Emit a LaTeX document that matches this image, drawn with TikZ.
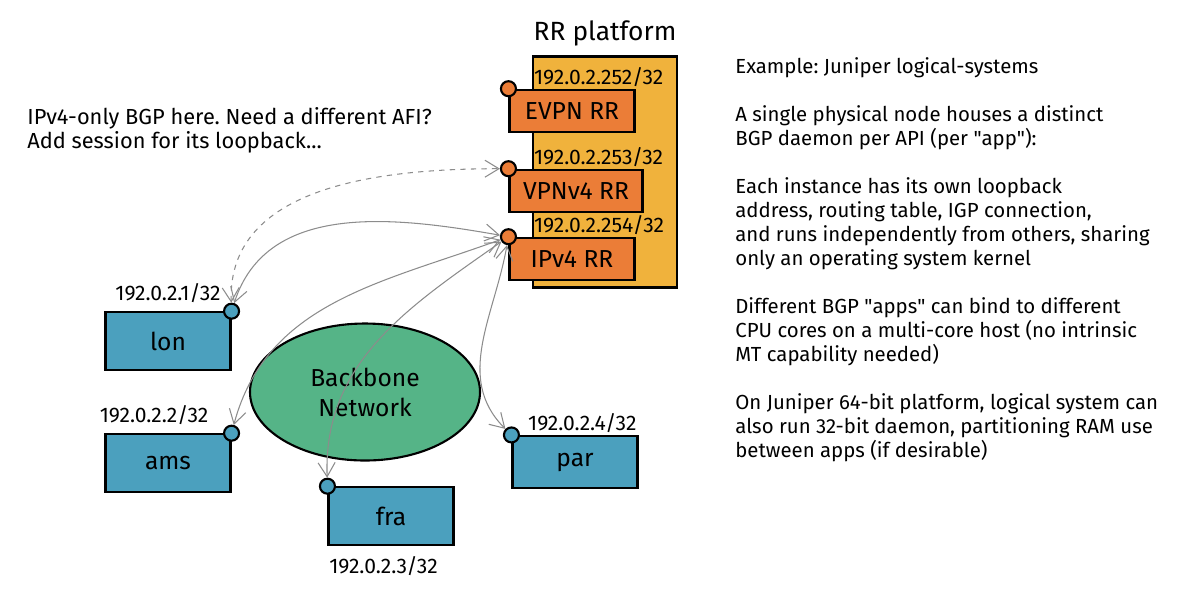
\documentclass[tikz,border=0pt]{standalone}
\usepackage{fontspec}
\setmainfont{Fira Sans}
\usepackage{tikz}
\usetikzlibrary{arrows.meta,positioning,shapes.geometric}
\definecolor{rrorange}{HTML}{EB7D37}
\definecolor{platyellow}{HTML}{F0B23C}
\definecolor{popblue}{HTML}{4BA0BE}
\definecolor{coregreen}{HTML}{55B487}
\frenchspacing

\begin{document}
\begin{tikzpicture}[x=0.2mm, y=-0.2mm,
  box/.style={draw=black, line width=1.2pt, minimum width=25mm, minimum height=11.5mm, inner sep=0pt, font=\fontsize{14}{16}\selectfont},
  rrbox/.style={box, fill=rrorange, minimum height=8.5mm},
  popbox/.style={box, fill=popblue},
  lo/.style={circle, draw=black, line width=1.2pt, minimum size=3mm, inner sep=0pt},
  addr/.style={font=\fontsize{12}{14}\selectfont, inner sep=1pt},
  note/.style={font=\fontsize{11.6}{13.66}\selectfont, align=left, inner sep=0pt},
  conn/.style={draw=gray!90, line width=0.6pt, {Straight Barb[length=2.8mm, width=3.4mm]}-{Straight Barb[length=2.8mm, width=3.4mm]}}
]
  \useasboundingbox (0,0) rectangle (1200,589);

  % RR platform with its three BGP instances
  \node[draw=black, line width=1.2pt, fill=platyellow, minimum width=28.8mm, minimum height=46.2mm] (platform) at (605,172) {};
  \node[font=\fontsize{15}{18}\selectfont, above=0.6mm of platform] (plattitle) {RR platform};

  \node[rrbox] (evpn) at (572,111) {EVPN RR};
  \node[rrbox, minimum width=26.6mm] (vpn) at (576,191) {VPNv4 RR};
  \node[rrbox] (ipv4) at (572,259) {IPv4 RR};
  \foreach \rr in {evpn,vpn,ipv4}
    \node[lo, fill=rrorange] (\rr lo) at (\rr.north west) {};

  \node[addr, anchor=south west] (evpnip) at (platform.west |- evpn.north) {192.0.2.252/32};
  \node[addr, anchor=south west] (vpnip) at (platform.west |- vpn.north) {192.0.2.253/32};
  \node[addr, anchor=south west] (ipv4ip) at (platform.west |- ipv4.north) {192.0.2.254/32};

  % backbone and PoPs
  \node[ellipse, draw=black, line width=1.2pt, fill=coregreen, minimum width=46mm, minimum height=27.4mm,
        align=center, font=\fontsize{14}{17}\selectfont] (core) at (365,392) {Backbone\\Network};

  \node[popbox] (lon) at (168,341) {lon};
  \node[popbox] (ams) at (168,463) {ams};
  \node[popbox] (fra) at (391,516) {fra};
  \node[popbox, minimum height=10.4mm] (par) at (575,462) {par};

  \node[lo, fill=popblue] (lonlo) at (lon.north east) {};
  \node[lo, fill=popblue] (amslo) at (ams.north east) {};
  \node[lo, fill=popblue] (fralo) at (fra.north west) {};
  \node[lo, fill=popblue] (parlo) at (par.north west) {};

  \node[addr, above=1.2mm of lon] (lonip) {192.0.2.1/32};
  \node[addr, above left=0mm and 3mm of amslo] (amsip) {192.0.2.2/32};
  \node[addr, below=1.8mm of fra, xshift=-1.5mm] (fraip) {192.0.2.3/32};
  \node[addr, anchor=south east] (parip) at (par.north east) {192.0.2.4/32};

  % BGP sessions
  \draw[conn, dashed] (lonlo) to[out=92, in=180] (vpnlo);
  \draw[conn] (lonlo) to[out=72, in=170] (ipv4lo);
  \draw[conn] (amslo) to[out=75, in=200] (ipv4lo);
  \draw[conn] (fralo) to[out=92, in=215] (ipv4lo);
  \draw[conn] (parlo) to[out=135, in=260] (ipv4lo);

  % notes
  \node[note, font=\fontsize{12.4}{13.66}\selectfont, anchor=north west] (afinote) at (27,107) {IPv4-only BGP here. Need a different AFI?\\Add session for its loopback...};
  \node[note, anchor=north west] (lsnote) at (735,57) {Example: Juniper logical-systems\\[13.66pt]
    A single physical node houses a distinct\\
    BGP daemon per API (per \textquotedbl app\textquotedbl):\\[13.66pt]
    Each instance has its own loopback\\
    address, routing table, IGP connection,\\
    and runs independently from others, sharing\\
    only an operating system kernel\\[13.66pt]
    Different BGP \textquotedbl apps\textquotedbl{} can bind to different\\
    CPU cores on a multi-core host (no intrinsic\\
    MT capability needed)\\[13.66pt]
    On Juniper 64-bit platform, logical system can\\
    also run 32-bit daemon, partitioning RAM use\\
    between apps (if desirable)};
\end{tikzpicture}
\end{document}
